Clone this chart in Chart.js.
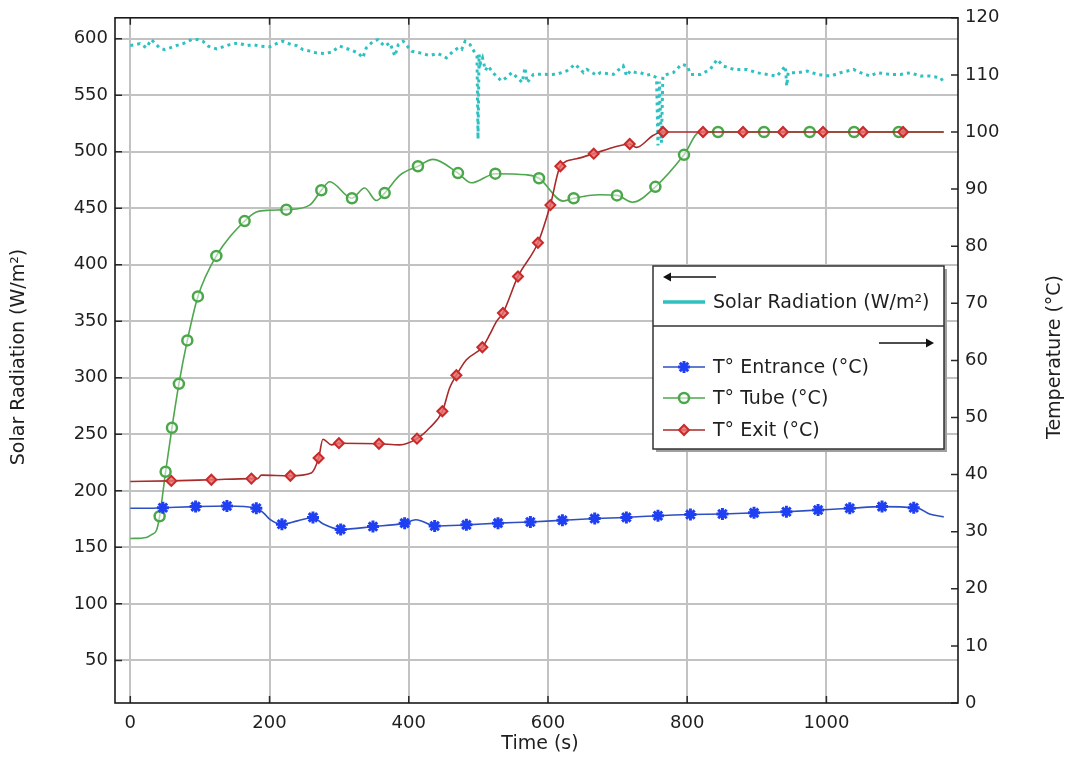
<!DOCTYPE html>
<html>
<head>
<meta charset="utf-8">
<script src="https://cdn.jsdelivr.net/npm/chart.js@4.4.0/dist/chart.umd.min.js"></script>
<style>
  html, body { margin: 0; padding: 0; background: #fff; }
  #wrap { width: 1068px; height: 758px; position: relative; }
</style>
</head>
<body>
<div id="wrap"><canvas id="grafica"></canvas></div>
<script>
/* =======================================
   Radiación solar y temperaturas del colector
======================================= */

// -------------------------
// Ejes
// -------------------------
const timeTicks = [0, 200, 400, 600, 800, 1000];
const radiationTicks = [50, 100, 150, 200, 250, 300, 350, 400, 450, 500, 550, 600];
const temperatureTicks = [0, 10, 20, 30, 40, 50, 60, 70, 80, 90, 100, 110, 120];

// -------------------------
// Radiación solar (W/m²)
// -------------------------
const solarTime = [0, 14, 23, 30, 35, 42, 49, 57, 66, 76, 88, 97, 104, 112, 124, 133, 143, 155, 167, 176,
  186, 200, 210, 219, 231, 239, 248, 258, 267, 279, 289, 301, 315, 327, 334, 339, 349, 356, 365, 373,
  380, 385, 392, 404, 416, 430, 442, 454, 464, 471, 476, 481, 488, 495, 498, 499.5, 501, 503, 506, 510,
  514, 521, 533, 540, 548, 556, 563, 567, 570, 579, 588, 603, 612, 627, 639, 651, 656, 670, 675, 694,
  708, 713, 718, 727, 733, 742, 747, 756, 758, 760, 763, 765, 771, 780, 792, 800, 805, 819, 833, 843,
  852, 867, 886, 900, 915, 929, 941, 943, 945, 958, 972, 987, 1006, 1020, 1039, 1049, 1063, 1073, 1092, 1106,
  1121, 1135, 1149, 1164, 1168];
const solarRadiation = [593.9, 595.7, 591.9, 599.2, 596.3, 591.9, 590.4, 591.9, 593.9, 595.7, 599.2, 599.2, 597.8, 593.4, 591.0, 592.8, 594.8, 596.3, 593.9, 594.8,
  593.4, 592.8, 595.7, 597.8, 594.8, 593.9, 590.4, 589.0, 587.5, 586.9, 588.1, 593.4, 590.4, 587.5, 583.1, 591.9, 597.8, 599.2, 593.4, 596.3,
  584.6, 594.8, 597.8, 589.0, 587.5, 585.1, 586.9, 583.1, 589.0, 591.9, 590.4, 597.8, 594.8, 587.5, 585.0, 511.3, 586.0, 578.0, 583.0, 572.0,
  575.8, 569.9, 562.7, 565.5, 570.0, 565.5, 561.2, 574.4, 561.1, 568.4, 568.5, 568.4, 568.5, 571.5, 577.4, 570.0, 572.8, 567.7, 569.9, 568.5,
  576.0, 567.0, 571.4, 570.0, 569.9, 567.7, 568.4, 565.6, 505.5, 562.0, 508.0, 566.9, 568.5, 570.0, 577.4, 576.0, 568.4, 568.4, 572.8, 581.6,
  575.8, 572.8, 572.8, 569.9, 568.4, 566.9, 575.8, 558.1, 570.0, 569.9, 571.4, 568.4, 566.9, 569.9, 572.8, 569.9, 566.9, 569.9, 568.4, 568.4,
  569.9, 566.9, 566.9, 565.5, 561.7];

// -------------------------
// T° Entrada (°C)
// -------------------------
const entranceTime = [0, 20, 46.8, 93.8, 138.8, 181, 192, 200, 217.8, 240, 262.4, 276.7, 302.2, 348.6, 394.1, 410, 420, 437.2,
  482.8, 528.2, 574.7, 620.7, 667.1, 712.6, 758, 804.6, 850.6, 896, 942.5, 988, 1033.5, 1079.9, 1125.4, 1134, 1148, 1168.5];
const entranceTemp = [34.1, 34.1, 34.2, 34.4, 34.5, 34.1, 33.2, 32.2, 31.3, 31.9, 32.5, 31.4, 30.4, 30.9, 31.5, 32.1, 31.8, 31.0,
  31.2, 31.5, 31.7, 32.0, 32.3, 32.5, 32.8, 33.0, 33.1, 33.3, 33.5, 33.8, 34.1, 34.4, 34.2, 34.0, 33.1, 32.6];
const entranceMarks = [46.8, 93.8, 138.8, 181, 217.8, 262.4, 302.2, 348.6, 394.1, 437.2, 482.8, 528.2, 574.7,
  620.7, 667.1, 712.6, 758, 804.6, 850.6, 896, 942.5, 988, 1033.5, 1079.9, 1125.4];

// -------------------------
// T° Tubo (°C)
// -------------------------
const tubeTime = [0, 23, 30.6, 37.4, 42.1, 50.7, 59.8, 69.8, 81.9, 97.1, 123.6, 164.2, 181, 200.1, 224.1, 257.6, 274.4, 286.4,
  318.4, 336.6, 353.4, 365.4, 387, 413.2, 434.8, 470.7, 489.9, 524.4, 569, 587.1, 621.6, 636.9, 674.3, 699.1, 721.3, 754.3,
  795.4, 818, 844.3, 910.3, 976, 1039.7, 1103.9, 1168.5];
const tubeTemp = [28.8, 29.0, 29.5, 30.2, 32.7, 40.5, 48.2, 55.9, 63.5, 71.2, 78.3, 84.4, 86.0, 86.3, 86.4, 87.2, 89.8, 91.3,
  88.4, 90.2, 88.0, 89.3, 92.4, 94.0, 95.2, 92.8, 91.1, 92.7, 92.5, 91.9, 87.9, 88.4, 89.0, 88.9, 87.7, 90.4,
  96.0, 100, 100, 100, 100, 100, 100, 100];
const tubeMarks = [42.1, 50.7, 59.8, 69.8, 81.9, 97.1, 123.6, 164.2, 224.1, 274.4, 318.4, 365.4, 413.2, 470.7,
  524.4, 587.1, 636.9, 699.1, 754.3, 795.4, 844.3, 910.3, 976, 1039.7, 1103.9];

// -------------------------
// T° Salida (°C)
// -------------------------
const exitTime = [0, 58.9, 116.4, 173.9, 183, 188.2, 229.9, 260, 270.5, 276.7, 288.8, 299.7, 357.2, 386.9, 411.8, 430,
  448.3, 458.8, 468.4, 482.8, 505.7, 516.2, 525.9, 535.3, 556.9, 585.6, 603.4, 617.8, 640.8, 665.7, 693.4, 717.4,
  727, 750.9, 765.2, 822.7, 880.2, 937.6, 995.1, 1052.6, 1110.1, 1168.5];
const exitTemp = [38.8, 38.9, 39.1, 39.3, 39.3, 39.9, 39.8, 40.3, 42.9, 46.2, 45.2, 45.5, 45.4, 45.2, 46.3, 48.2,
  51.1, 55.2, 57.4, 60.1, 62.3, 64.5, 66.8, 68.3, 74.7, 80.6, 87.2, 94.0, 95.3, 96.2, 97.3, 97.9,
  97.3, 99.4, 100, 100, 100, 100, 100, 100, 100, 100];
const exitMarks = [58.9, 116.4, 173.9, 229.9, 270.5, 299.7, 357.2, 411.8, 448.3, 468.4, 505.7, 535.3, 556.9,
  585.6, 603.4, 617.8, 665.7, 717.4, 765.2, 822.7, 880.2, 937.6, 995.1, 1052.6, 1110.1];

// -------------------------
// Estilo
// -------------------------
const FONT = '"DejaVu Sans", sans-serif';
const TEXT = '#1f1f1f';
const GRID = '#c2c2c2';

const pares = (xs, ys) => xs.map((x, i) => ({ x: x, y: ys[i] }));
const marcador = (marks, r) => ctx => (ctx.raw && marks.includes(ctx.raw.x)) ? r : 0;
const fijarTicks = lista => scale => { scale.ticks = lista.map(v => ({ value: v })); };
const sinComa = v => String(v);

const series = [
  {
    label: 'T° Entrance (°C)',
    data: pares(entranceTime, entranceTemp),
    yAxisID: 'yR',
    borderColor: '#2d4fc4',
    borderWidth: 1.6,
    pointStyle: 'star',
    pointRadius: marcador(entranceMarks, 6),
    pointBorderColor: '#1f3ff2',
    pointBackgroundColor: '#1f3ff2',
    pointBorderWidth: 3,
    cubicInterpolationMode: 'monotone',
    order: 1
  },
  {
    label: 'T° Tube (°C)',
    data: pares(tubeTime, tubeTemp),
    yAxisID: 'yR',
    borderColor: '#4ea64e',
    borderWidth: 1.6,
    pointStyle: 'circle',
    pointRadius: marcador(tubeMarks, 5),
    pointBorderColor: '#4aa84a',
    pointBackgroundColor: 'rgba(255,255,255,0.55)',
    pointBorderWidth: 2.5,
    cubicInterpolationMode: 'monotone',
    order: 2
  },
  {
    label: 'T° Exit (°C)',
    data: pares(exitTime, exitTemp),
    yAxisID: 'yR',
    borderColor: '#a82a2a',
    borderWidth: 1.6,
    pointStyle: 'rectRot',
    pointRadius: marcador(exitMarks, 5),
    pointBorderColor: '#c92a2a',
    pointBackgroundColor: 'rgba(232,110,110,0.85)',
    pointBorderWidth: 2,
    cubicInterpolationMode: 'monotone',
    order: 0
  },
  {
    label: 'Solar Radiation (W/m²)',
    data: pares(solarTime, solarRadiation),
    yAxisID: 'yL',
    borderColor: '#2fc1c1',
    borderWidth: 3,
    borderDash: [3, 4],
    pointRadius: 0,
    tension: 0,
    order: 3
  }
];

// -------------------------
// Marco, títulos y leyenda
// -------------------------
function dibujarPunto(ctx, ds, x, y) {
  ctx.save();
  ctx.strokeStyle = ds.pointBorderColor;
  ctx.fillStyle = ds.pointBackgroundColor;
  ctx.lineWidth = ds.pointBorderWidth;
  const r = ds.pointStyle === 'star' ? 6 : 5;
  if (Chart.helpers && Chart.helpers.drawPoint) {
    Chart.helpers.drawPoint(ctx, { pointStyle: ds.pointStyle, radius: r, rotation: 0, borderWidth: ds.pointBorderWidth }, x, y);
  }
  ctx.restore();
}

function flecha(ctx, x1, x2, y) {
  const dir = x2 > x1 ? 1 : -1;
  ctx.beginPath();
  ctx.moveTo(x1, y);
  ctx.lineTo(x2 - dir * 6, y);
  ctx.stroke();
  ctx.beginPath();
  ctx.moveTo(x2, y);
  ctx.lineTo(x2 - dir * 8, y - 4.5);
  ctx.lineTo(x2 - dir * 8, y + 4.5);
  ctx.closePath();
  ctx.fill();
}

const marcoPlugin = {
  id: 'marco',
  afterDraw(chart) {
    const { ctx, chartArea: a, scales } = chart;
    ctx.save();

    // marcas interiores
    ctx.strokeStyle = '#2a2a2a';
    ctx.lineWidth = 1.5;
    ctx.beginPath();
    radiationTicks.forEach(v => {
      const y = scales.yL.getPixelForValue(v);
      ctx.moveTo(a.left, y); ctx.lineTo(a.left + 7, y);
    });
    temperatureTicks.forEach(v => {
      const y = scales.yR.getPixelForValue(v);
      ctx.moveTo(a.right, y); ctx.lineTo(a.right - 7, y);
    });
    timeTicks.forEach(v => {
      const x = scales.x.getPixelForValue(v);
      ctx.moveTo(x, a.top); ctx.lineTo(x, a.top + 7);
      ctx.moveTo(x, a.bottom); ctx.lineTo(x, a.bottom - 7);
    });
    ctx.stroke();

    // marco
    ctx.strokeStyle = '#1a1a1a';
    ctx.lineWidth = 1.6;
    ctx.strokeRect(a.left, a.top, a.right - a.left, a.bottom - a.top);

    // títulos de ejes
    ctx.fillStyle = TEXT;
    ctx.font = '19px ' + FONT;
    ctx.textAlign = 'center';
    ctx.textBaseline = 'middle';
    ctx.fillText('Time (s)', 540, 744);
    ctx.save();
    ctx.translate(19, 357);
    ctx.rotate(-Math.PI / 2);
    ctx.fillText('Solar Radiation (W/m²)', 0, 0);
    ctx.restore();
    ctx.save();
    ctx.translate(1055, 357);
    ctx.rotate(-Math.PI / 2);
    ctx.fillText('Temperature (°C)', 0, 0);
    ctx.restore();

    // leyenda
    const lx = 653, ly = 266, lw = 291, lh = 183;
    ctx.fillStyle = '#a0a0a0';
    ctx.fillRect(lx + 3, ly + 3, lw, lh);
    ctx.fillStyle = '#ffffff';
    ctx.fillRect(lx, ly, lw, lh);
    ctx.strokeStyle = '#333';
    ctx.lineWidth = 1.5;
    ctx.strokeRect(lx, ly, lw, lh);
    ctx.beginPath();
    ctx.moveTo(lx, ly + 60); ctx.lineTo(lx + lw, ly + 60);
    ctx.stroke();

    ctx.strokeStyle = '#111';
    ctx.fillStyle = '#111';
    ctx.lineWidth = 1.5;
    flecha(ctx, lx + 63, lx + 10, ly + 11);
    flecha(ctx, lx + 226, lx + 281, ly + 77);

    const filas = [
      { ds: series[3], y: ly + 36 },
      { ds: series[0], y: ly + 101 },
      { ds: series[1], y: ly + 132 },
      { ds: series[2], y: ly + 164 }
    ];
    ctx.font = '19px ' + FONT;
    ctx.textAlign = 'left';
    ctx.textBaseline = 'middle';
    filas.forEach(f => {
      ctx.strokeStyle = f.ds.borderColor;
      ctx.lineWidth = f.ds.borderDash ? 3.5 : 1.5;
      ctx.beginPath();
      ctx.moveTo(lx + 10, f.y); ctx.lineTo(lx + 52, f.y);
      ctx.stroke();
      if (!f.ds.borderDash) dibujarPunto(ctx, f.ds, lx + 31, f.y);
      ctx.fillStyle = TEXT;
      ctx.fillText(f.ds.label, lx + 60, f.y + 1);
    });

    ctx.restore();
  }
};

// -------------------------
// Gráfica
// -------------------------
new Chart(document.getElementById('grafica'), {
  type: 'line',
  data: { datasets: series },
  options: {
    responsive: true,
    maintainAspectRatio: false,
    animation: false,
    layout: { padding: { top: 15, left: 0, right: 0, bottom: 0 } },
    plugins: {
      legend: { display: false },
      tooltip: { enabled: false }
    },
    scales: {
      x: {
        type: 'linear',
        min: -22,
        max: 1189,
        afterBuildTicks: fijarTicks(timeTicks),
        afterFit: s => { s.height = 55; },
        grid: { color: GRID, lineWidth: 2, drawTicks: false },
        border: { display: false },
        ticks: { font: { family: FONT, size: 18 }, color: TEXT, padding: 10, maxRotation: 0, callback: sinComa }
      },
      yL: {
        type: 'linear',
        position: 'left',
        min: 12.3,
        max: 618.5,
        afterBuildTicks: fijarTicks(radiationTicks),
        afterFit: s => { s.width = 115; },
        grid: { color: GRID, lineWidth: 2, drawTicks: false },
        border: { display: false },
        ticks: { font: { family: FONT, size: 18 }, color: TEXT, padding: 7, callback: sinComa }
      },
      yR: {
        type: 'linear',
        position: 'right',
        min: 0,
        max: 120,
        afterBuildTicks: fijarTicks(temperatureTicks),
        afterFit: s => { s.width = 110; },
        grid: { drawOnChartArea: false, drawTicks: false },
        border: { display: false },
        ticks: { font: { family: FONT, size: 18 }, color: TEXT, padding: 7, callback: sinComa }
      }
    }
  },
  plugins: [marcoPlugin]
});
</script>
</body>
</html>
